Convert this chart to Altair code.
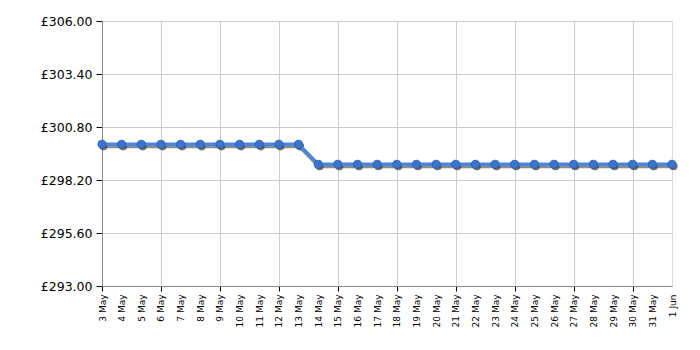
import altair as alt
import pandas as pd

dates = ["3 May", "4 May", "5 May", "6 May", "7 May", "8 May", "9 May", "10 May",
         "11 May", "12 May", "13 May", "14 May", "15 May", "16 May", "17 May",
         "18 May", "19 May", "20 May", "21 May", "22 May", "23 May", "24 May",
         "25 May", "26 May", "27 May", "28 May", "29 May", "30 May", "31 May", "1 Jun"]
prices = [299.95] * 11 + [298.97] * 19
y_ticks = [293.0, 295.6, 298.2, 300.8, 303.4, 306.0]

df = pd.DataFrame({"idx": list(range(len(dates))), "date": dates, "price": prices})

label_arr = "[" + ",".join("'" + d + "'" for d in dates) + "]"

FONT = "DejaVu Sans"

x_enc = alt.X(
    "idx:Q",
    scale=alt.Scale(domain=[0, len(dates) - 1], nice=False, zero=False),
    axis=alt.Axis(
        title=None,
        values=list(range(len(dates))),
        labelExpr=label_arr + "[datum.value]",
        labelAngle=270,
        labelFont=FONT,
        labelFontSize=9,
        labelColor="#000000",
        labelPadding=3,
        labelOverlap=False,
        domainColor="#888888",
        tickColor="#000000",
        tickSize=5,
        tickOpacity={"condition": {"test": "datum.value % 3 == 0", "value": 1}, "value": 0},
        gridColor="#cccccc",
        gridOpacity={"condition": {"test": "datum.value % 3 == 0", "value": 1}, "value": 0},
    ),
)
y_enc = alt.Y(
    "price:Q",
    scale=alt.Scale(domain=[293, 306], nice=False, zero=False),
    axis=alt.Axis(
        title=None,
        values=y_ticks,
        labelExpr="'£' + format(datum.value, '.2f')",
        labelFont=FONT,
        labelFontSize=12.5,
        labelColor="#000000",
        labelPadding=4,
        domainColor="#888888",
        tickColor="#000000",
        tickSize=6,
        gridColor="#cccccc",
    ),
)

base = alt.Chart(df).encode(x=x_enc, y=y_enc)

shadow_line = base.mark_line(color="#666666", strokeWidth=4, opacity=0.75, yOffset=2, xOffset=1)
shadow_pts = base.mark_point(filled=True, color="#444444", size=66, opacity=0.75, yOffset=2, xOffset=1.5)
line = base.mark_line(color="#4a86dc", strokeWidth=3.5)
pts = base.mark_point(filled=True, color="#3a74cc", size=66, opacity=1,
                      stroke="#2a5aa8", strokeWidth=0.8)

chart = alt.layer(shadow_line, shadow_pts, line, pts).properties(
    width=570, height=265,
    autosize=alt.AutoSizeParams(type="none"),
    padding={"left": 102, "top": 21, "right": 28, "bottom": 64},
).configure_view(stroke="#999999", strokeWidth=1).configure(background="white")

chart.save("out.html", embed_options={"renderer": "svg", "actions": False})
